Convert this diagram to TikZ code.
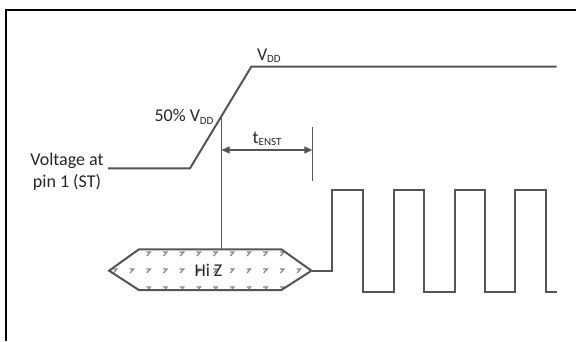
\documentclass[tikz,border=0pt]{standalone}
\usepackage{fontspec}
\setmainfont{Carlito}
\usetikzlibrary{arrows.meta}
\definecolor{wave}{HTML}{555555}
\definecolor{hatch}{HTML}{8A8A8A}
\newcommand{\mysub}[1]{\raisebox{-2.6pt}{\fontsize{11}{11}\selectfont #1}}
\begin{document}
\begin{tikzpicture}[x=1pt,y=-1pt,
  wavestyle/.style={draw=wave,line width=2pt,line join=miter},
  thinline/.style={draw=wave,line width=1.2pt},
  lbl/.style={inner sep=0pt,outer sep=0pt,font=\fontsize{18}{21.6}\selectfont,text=black!85},
  dimarrow/.style={draw=wave,line width=1.3pt,{Triangle[length=8pt,width=7pt]}-{Triangle[length=8pt,width=7pt]}},
  hatchmark/.style={draw=hatch,line width=1.3pt}]
\useasboundingbox (0,0) rectangle (576,341);
% frame
\draw[black,line width=1.3pt] (6,341) -- (6,10) -- (576,10);
% voltage waveform
\coordinate (v0) at (108,168.3);
\coordinate (v1) at (190,168.3);
\coordinate (v2) at (251.3,66.7);
\coordinate (v3) at (556.6,66.7);
\coordinate (mid) at (221.5,118.3);
\draw[wavestyle] (v0) -- (v1) -- (v2) -- (v3);
% labels
\node[lbl,anchor=base west] (vdd) at (257,60) {V\mysub{DD}};
\node[lbl,anchor=base east] (half) at (213.5,121.5) {50\% V\mysub{DD}};
\node[lbl,anchor=base] (volt1) at (67,165) {Voltage at};
\node[lbl,anchor=base] (volt2) at (67,187) {pin 1 (ST)};
% hexagon Hi Z
\coordinate (hl) at (109.1,270.7);
\coordinate (htl) at (138.9,249.3);
\coordinate (htr) at (281.4,249.3);
\coordinate (hr) at (311.5,270.7);
\coordinate (hbr) at (281.4,290);
\coordinate (hbl) at (138.9,290);
\fill[white] (hl) -- (htl) -- (htr) -- (hr) -- (hbr) -- (hbl) -- cycle;
\begin{scope}
\clip (hl) -- (htl) -- (htr) -- (hr) -- (hbr) -- (hbl) -- cycle;
\foreach \yy in {254,271,289}{
  \foreach \k in {-2,...,9}{
    \pgfmathsetmacro{\xx}{148.3+16.7*\k}
    \draw[hatchmark] (\xx-2,\yy-2) -- (\xx+2,\yy-2) -- (\xx-1.5,\yy+2);
  }
}
\end{scope}
% 50% vertical line
\coordinate (vbot) at (221.5,249.3);
\draw[thinline] (mid) -- (vbot);
\draw[wavestyle] (hl) -- (htl) -- (htr) -- (hr) -- (hbr) -- (hbl) -- cycle;
\node[lbl] (hiz) at (208.5,270.7) {Hi Z};
% tENST marker
\coordinate (tt) at (312.3,127.3);
\coordinate (tb) at (312.3,181);
\draw[draw=wave,line width=1.5pt] (tt) -- (tb);
\coordinate (a1) at (221.5,150);
\coordinate (a2) at (312.3,150);
\draw[dimarrow] (a1) -- (a2);
\node[lbl,anchor=base west] (tenst) at (252.7,143.3) {t\mysub{ENST}};
% output clock
\coordinate (c0) at (331.7,270.7);
\draw[wavestyle] (hr) -- (c0) -- (331.7,190) -- (363,190) -- (363,291.7) -- (393.8,291.7)
  -- (393.8,190) -- (424.3,190) -- (424.3,291.7) -- (454.8,291.7)
  -- (454.8,190) -- (485,190) -- (485,291.7) -- (515.4,291.7)
  -- (515.4,190) -- (546,190) -- (546,291.7) -- (556.6,291.7);
\end{tikzpicture}
\end{document}
